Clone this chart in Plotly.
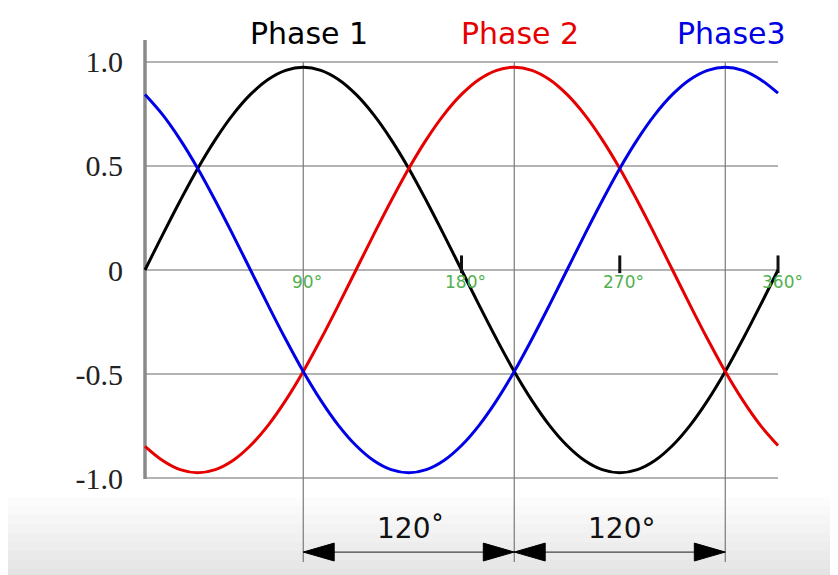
import plotly.graph_objects as go

# ---------------- data ----------------
angle_deg = [0, 10, 20, 30, 40, 50, 60, 70, 80, 90, 100, 110, 120, 130, 140, 150, 160, 170, 180,
             190, 200, 210, 220, 230, 240, 250, 260, 270, 280, 290, 300, 310, 320, 330, 340, 350, 360]
phase1 = [0, 0.169, 0.333, 0.488, 0.627, 0.747, 0.844, 0.916, 0.960, 0.975, 0.960, 0.916, 0.844,
          0.747, 0.627, 0.488, 0.333, 0.169, 0,
          -0.169, -0.333, -0.488, -0.627, -0.747, -0.844, -0.916, -0.960, -0.975, -0.960, -0.916, -0.844,
          -0.747, -0.627, -0.488, -0.333, -0.169, 0]
phase2 = [-0.848, -0.916, -0.960, -0.975, -0.960, -0.916, -0.844, -0.747, -0.627, -0.488, -0.333, -0.169, 0,
          0.169, 0.333, 0.488, 0.627, 0.747, 0.844,
          0.916, 0.960, 0.975, 0.960, 0.916, 0.844, 0.747, 0.627, 0.488, 0.333, 0.169, 0,
          -0.169, -0.333, -0.488, -0.627, -0.747, -0.844]
phase3 = [0.844, 0.747, 0.627, 0.488, 0.333, 0.169, 0, -0.169, -0.333, -0.488, -0.627, -0.747, -0.844,
          -0.916, -0.960, -0.975, -0.960, -0.916, -0.844,
          -0.747, -0.627, -0.488, -0.333, -0.169, 0, 0.169, 0.333, 0.488, 0.627, 0.747, 0.844,
          0.916, 0.960, 0.975, 0.960, 0.916, 0.850]
series_names = ["Phase 1", "Phase 2", "Phase3"]
phase_peak_deg = [90, 210, 330]

y_tick_values = [1.0, 0.5, 0, -0.5, -1.0]
y_tick_labels = ["1.0", "0.5", "0", "-0.5", "-1.0"]
x_tick_values = [90, 180, 270, 360]
x_tick_labels = ["90°", "180°", "270°", "360°"]
shift_labels = ["120˚", "120°"]

# ---------------- styling ----------------
series_colors = ["#000000", "#e60000", "#0000e6"]
label_green = "#52b04f"
grid_color = "#b4b4b4"
vgrid_color = "#7a7a7a"

X_MIN, X_MAX = -5.687, 372.5
Y_MIN, Y_MAX = -1.4423, 1.1538

fig = go.Figure()

for name, ys, col in zip(series_names, [phase1, phase2, phase3], series_colors):
    fig.add_trace(go.Scatter(
        x=angle_deg, y=ys, mode="lines", name=name, showlegend=False,
        hoverinfo="skip",
        line=dict(color=col, width=3, shape="spline", smoothing=1.0),
    ))

shapes = []
# subtle grey shading at the bottom of the screenshot
for k in range(9):
    p = 497 + 9 * k
    shapes.append(dict(type="rect", xref="paper", yref="paper",
                       x0=-0.21, x1=1.07, y0=-0.03, y1=(570 - p) / 540,
                       fillcolor="rgba(0,0,0,0.01)", line=dict(width=0), layer="below"))
# horizontal grid lines
for v in y_tick_values:
    shapes.append(dict(type="line", xref="x", yref="y", x0=0, x1=360, y0=v, y1=v,
                       line=dict(color=grid_color, width=2), layer="below"))
# vertical reference lines at peaks
for xp in phase_peak_deg:
    shapes.append(dict(type="line", xref="x", yref="y", x0=xp, x1=xp, y0=1.0, y1=-1.404,
                       line=dict(color=vgrid_color, width=1.2), layer="below"))
# left axis line
shapes.append(dict(type="line", xref="x", yref="y", x0=0, x1=0, y0=-1.005, y1=1.106,
                   line=dict(color="#8a8a8a", width=3.5), layer="below"))
# tick marks on the zero line
for xt in x_tick_values[1:]:
    shapes.append(dict(type="line", xref="x", yref="y", x0=xt, x1=xt, y0=-0.015, y1=0.07,
                       line=dict(color="#111111", width=3), layer="above"))

# dimension arrows
arrow_y = -1.356
head_len = 17.6
head_h = 0.043
shapes.append(dict(type="line", xref="x", yref="y", x0=phase_peak_deg[0], x1=phase_peak_deg[-1],
                   y0=arrow_y, y1=arrow_y, line=dict(color="#444444", width=1.3)))
for a, b in zip(phase_peak_deg[:-1], phase_peak_deg[1:]):
    for tip, base in [(a, a + head_len), (b, b - head_len)]:
        shapes.append(dict(type="path", xref="x", yref="y",
                           path=f"M {tip},{arrow_y} L {base},{arrow_y + head_h} L {base},{arrow_y - head_h} Z",
                           fillcolor="#000000", line=dict(color="#000000", width=1)))

annotations = []
for name, xp, col in zip(series_names, phase_peak_deg, series_colors):
    annotations.append(dict(x=xp, y=1.135, xref="x", yref="y", text=name, showarrow=False,
                            xshift=6, xanchor="center", yanchor="middle",
                            font=dict(family="DejaVu Sans", size=30, color=col)))
for xt, lab in zip(x_tick_values, x_tick_labels):
    annotations.append(dict(x=xt, y=-0.058, xref="x", yref="y", text=lab, showarrow=False,
                            xshift=4, xanchor="center", yanchor="middle",
                            font=dict(family="DejaVu Sans", size=17, color=label_green)))
for (a, b), lab in zip(zip(phase_peak_deg[:-1], phase_peak_deg[1:]), shift_labels):
    annotations.append(dict(x=(a + b) / 2, y=-1.245, xref="x", yref="y", text=lab, showarrow=False,
                            xshift=2, xanchor="center", yanchor="middle",
                            font=dict(family="DejaVu Sans", size=28, color="#111111")))

# the page body adds an 8px offset, so the figure is 8px smaller and margins shifted
fig.update_layout(
    width=830, height=567,
    margin=dict(l=127, r=38, t=22, b=5),
    paper_bgcolor="#ffffff", plot_bgcolor="rgba(0,0,0,0)",
    shapes=shapes, annotations=annotations, showlegend=False,
    xaxis=dict(range=[X_MIN, X_MAX], showgrid=False, zeroline=False, showline=False,
               showticklabels=False, ticks=""),
    yaxis=dict(range=[Y_MIN, Y_MAX], showgrid=False, zeroline=False, showline=False,
               tickmode="array", tickvals=y_tick_values, ticktext=y_tick_labels,
               ticks="", ticklabelstandoff=11,
               tickfont=dict(family="Liberation Serif", size=30, color="#222222")),
)

fig.write_html("out.html")
